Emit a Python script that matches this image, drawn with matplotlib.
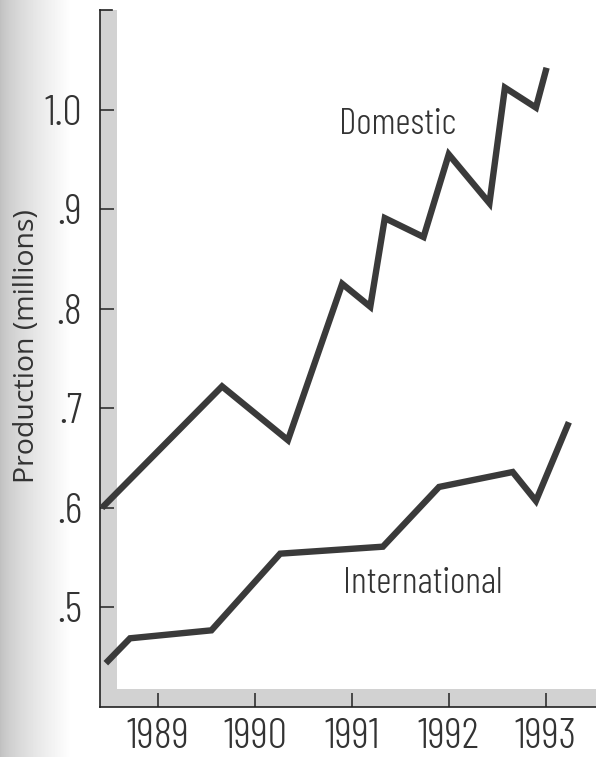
import numpy as np
import matplotlib
matplotlib.use("Agg")
from matplotlib import pyplot as plt
from matplotlib.patches import Rectangle

plt.rcParams["font.family"] = ["Barlow Condensed", "DejaVu Sans"]

# domestic / international production, millions (x in fractional years)
dom_x = [1988.42, 1989.66, 1990.34, 1990.90, 1991.19, 1991.34, 1991.74,
         1992.00, 1992.42, 1992.58, 1992.90, 1993.01]
dom_y = [0.600, 0.722, 0.668, 0.825, 0.802, 0.891, 0.872,
         0.955, 0.906, 1.022, 1.002, 1.042]
intl_x = [1988.46, 1988.71, 1989.55, 1990.26, 1991.32, 1991.90, 1992.66,
          1992.90, 1993.24]
intl_y = [0.444, 0.469, 0.477, 0.554, 0.561, 0.621, 0.636, 0.607, 0.686]

year_ticks = [1989, 1990, 1991, 1992, 1993]
y_ticks = [0.5, 0.6, 0.7, 0.8, 0.9, 1.0]
y_labels = [".5", ".6", ".7", ".8", ".9", "1.0"]

W, H = 596, 757
fig = plt.figure(figsize=(W / 100, H / 100), dpi=100)

# scan shadow on the left edge
bg = fig.add_axes([0, 0, 1, 1])
bg.axis("off")
grad = np.clip(np.linspace(0, 1, W) / 0.12, 0, 1)
shade = 0.75 + 0.25 * grad ** 0.7
bg.imshow(np.tile(shade, (2, 1)), cmap="gray", vmin=0, vmax=1,
          aspect="auto", extent=[0, 1, 0, 1])

left, bottom, top = 100 / W, 1 - 707 / H, 1 - 10 / H
ax = fig.add_axes([left, bottom, 1 - left, top - bottom])
ax.set_facecolor("none")
ax.set_xlim(1988.40, 1993.52)
ax.set_ylim(0.40, 1.10)

band = "#d2d2d2"
ax.add_patch(Rectangle((0, 0), 17 / 496, 1, transform=ax.transAxes,
                       facecolor=band, edgecolor="none", zorder=0))
ax.add_patch(Rectangle((0, 0), 1, 18 / 697, transform=ax.transAxes,
                       facecolor=band, edgecolor="none", zorder=0))
ax.plot([0, 12 / 496], [1, 1], transform=ax.transAxes, color="#222222",
        lw=1.2, clip_on=False)

line_kw = dict(color="#3a3a3a", lw=4.6, solid_joinstyle="miter",
               solid_capstyle="butt", zorder=3)
ax.plot(dom_x, dom_y, **line_kw)
ax.plot(intl_x, intl_y, **line_kw)

ax.text(1991.47, 0.985, "Domestic", fontsize=27, weight=300, color="#333333",
        ha="center", va="center")
ax.text(1991.73, 0.524, "International", fontsize=27, weight=300,
        color="#333333", ha="center", va="center")

for s in ("top", "right"):
    ax.spines[s].set_visible(False)
for s in ("left", "bottom"):
    ax.spines[s].set_color("#222222")
    ax.spines[s].set_linewidth(1.2)

ax.set_xticks(year_ticks)
ax.set_xticklabels([str(y) for y in year_ticks])
ax.set_yticks(y_ticks)
ax.set_yticklabels(y_labels)
ax.tick_params(axis="both", direction="in", length=10, width=1.1,
               colors="#222222", labelcolor="#333333", labelsize=31)
for lab in ax.get_xticklabels() + ax.get_yticklabels():
    lab.set_fontweight(300)
ax.tick_params(axis="x", pad=8)
ax.tick_params(axis="y", pad=13)

fig.text(27 / W, 1 - 346 / H, "Production (millions)", rotation=90,
         fontsize=20.5, color="#333333", ha="center", va="center",
         family=["Open Sans", "DejaVu Sans"])

fig.savefig("out.png", dpi=100)
